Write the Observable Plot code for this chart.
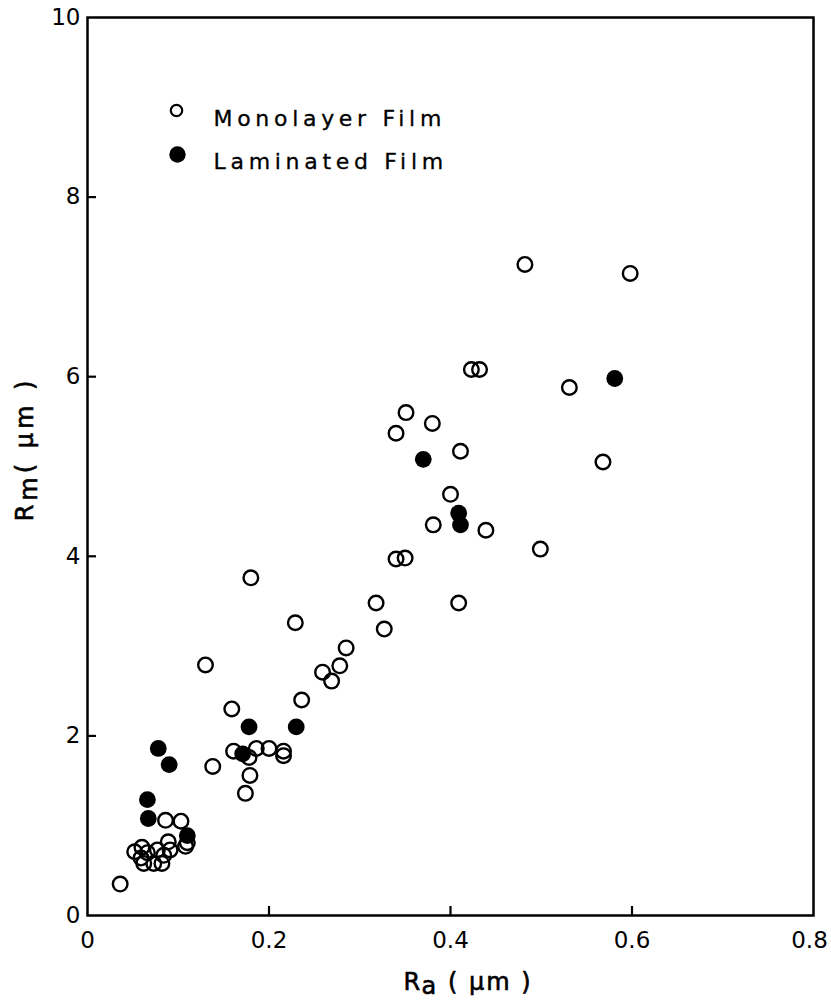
<!DOCTYPE html>
<html>
<head>
<meta charset="utf-8">
<script src="https://cdn.jsdelivr.net/npm/d3@7"></script>
<script src="https://cdn.jsdelivr.net/npm/@observablehq/plot@0.6"></script>
<style>
  html, body { margin: 0; padding: 0; background: #fff; }
  svg { font-family: "DejaVu Sans", sans-serif; }
</style>
</head>
<body>
<div id="chart"></div>
<script>
// Monolayer film (open circles): Ra (µm), Rm (µm)
const monoRa = [0.482, 0.598, 0.423, 0.432, 0.531, 0.351, 0.380, 0.340, 0.411, 0.568,
  0.400, 0.381, 0.439, 0.499, 0.340, 0.350, 0.318, 0.409, 0.327, 0.180,
  0.229, 0.285, 0.278, 0.259, 0.269, 0.130, 0.236, 0.159, 0.138, 0.161,
  0.178, 0.186, 0.200, 0.216, 0.216, 0.179, 0.174, 0.086, 0.103, 0.110,
  0.108, 0.089, 0.052, 0.060, 0.059, 0.066, 0.062, 0.073, 0.082, 0.084,
  0.091, 0.077, 0.036];
const monoRm = [7.25, 7.15, 6.08, 6.08, 5.88, 5.60, 5.48, 5.37, 5.17, 5.05,
  4.69, 4.35, 4.29, 4.08, 3.97, 3.98, 3.48, 3.48, 3.19, 3.76,
  3.26, 2.98, 2.78, 2.71, 2.61, 2.79, 2.40, 2.30, 1.66, 1.83,
  1.76, 1.86, 1.86, 1.83, 1.78, 1.56, 1.36, 1.06, 1.05, 0.81,
  0.77, 0.82, 0.71, 0.76, 0.64, 0.70, 0.58, 0.58, 0.58, 0.67,
  0.73, 0.73, 0.35];
// Laminated film (filled circles)
const lamRa = [0.581, 0.370, 0.409, 0.411, 0.178, 0.230, 0.078, 0.090, 0.171, 0.066, 0.067, 0.110];
const lamRm = [5.98, 5.08, 4.48, 4.35, 2.10, 2.10, 1.86, 1.68, 1.80, 1.29, 1.08, 0.89];

const xTicks = [0, 0.2, 0.4, 0.6];
const xLastTick = [0.8];
const yTicks = [0, 2, 4, 6, 8, 10];
const xInnerTicks = [0.2, 0.4, 0.6];
const yInnerTicks = [2, 4, 6, 8];
const legendLabels = ["Monolayer Film", "Laminated Film"];

const mono = monoRa.map((x, i) => ({x, y: monoRm[i]}));
const lam = lamRa.map((x, i) => ({x, y: lamRm[i]}));

const W = 831, H = 1001, ML = 87, MR = 18, MT = 17, MB = 86, TICK = 9;
const tickStyle = {fontSize: 23, stroke: "#000", strokeWidth: 0.7, fill: "#000"};

const chart = Plot.plot({
  width: W,
  height: H,
  marginLeft: ML,
  marginRight: MR,
  marginTop: MT,
  marginBottom: MB,
  style: {fontFamily: "DejaVu Sans, sans-serif", fontSize: "23px", color: "#000", background: "#fff"},
  x: {domain: [0, 0.8]},
  y: {domain: [0, 10]},
  marks: [
    // inward tick marks
    Plot.ruleX(xInnerTicks, {x: d => d, insetTop: H - MT - MB - TICK, stroke: "#000", strokeWidth: 2.2}),
    Plot.ruleY(yInnerTicks, {y: d => d, insetRight: W - ML - MR - TICK, stroke: "#000", strokeWidth: 2.2}),
    Plot.frame({stroke: "#000", strokeWidth: 2.5}),
    Plot.axisX({ticks: xTicks, tickSize: 0, tickPadding: 16, label: null, tickFormat: d => String(d), ...tickStyle}),
    Plot.axisX({ticks: xLastTick, tickSize: 0, tickPadding: 16, label: null, dx: -4, tickFormat: d => String(d), ...tickStyle}),
    Plot.axisY({ticks: yTicks, tickSize: 0, tickPadding: 7, label: null, tickFormat: d => String(d), ...tickStyle}),
    Plot.dot(mono, {x: "x", y: "y", r: 7.3, stroke: "#000", strokeWidth: 2.4, fill: "none"}),
    Plot.dot(lam, {x: "x", y: "y", r: 8.4, fill: "#000", stroke: "none"}),
    // legend
    Plot.dot([legendLabels[0]], {frameAnchor: "top-left", dx: 89, dy: 93, r: 5.7, stroke: "#000", strokeWidth: 2.2, fill: "none"}),
    Plot.dot([legendLabels[1]], {frameAnchor: "top-left", dx: 90, dy: 137, r: 8.2, fill: "#000"}),
    Plot.text([legendLabels[0]], {frameAnchor: "top-left", dx: 126, dy: 92.5, text: d => d, textAnchor: "start", fontSize: 22, fill: "#000", stroke: "#000", strokeWidth: 0.3}),
    Plot.text([legendLabels[1]], {frameAnchor: "top-left", dx: 126, dy: 135.5, text: d => d, textAnchor: "start", fontSize: 22, fill: "#000", stroke: "#000", strokeWidth: 0.3})
  ]
});

// letter spacing of the legend texts
d3.select(chart).selectAll("text")
  .filter(function () { return legendLabels.includes(this.textContent); })
  .style("letter-spacing", "4.7px");

// axis titles with a lowered subscript
const svg = d3.select(chart);
const xs = chart.scale("x"), ys = chart.scale("y");
function title(sel, main, sub, rest) {
  sel.attr("font-size", 24).attr("fill", "#000").attr("stroke", "#000").attr("stroke-width", 0.6)
     .style("letter-spacing", "2px");
  sel.append("tspan").text(main);
  sel.append("tspan").attr("dy", 4).text(sub);
  sel.append("tspan").attr("dy", -4).text(rest);
}
const xt = svg.append("text")
  .attr("x", (xs.apply(0) + xs.apply(0.8)) / 2 + 18)
  .attr("y", ys.apply(0) + 75)
  .attr("text-anchor", "middle");
title(xt, "R", "a", " ( μm )");
const yt = svg.append("text")
  .attr("transform", `translate(${xs.apply(0) - 54},${(ys.apply(0) + ys.apply(10)) / 2 - 17}) rotate(-90)`)
  .attr("text-anchor", "middle");
title(yt, "R", "m", "( μm )");
yt.style("letter-spacing", "4px");

document.getElementById("chart").appendChild(chart);
</script>
</body>
</html>
